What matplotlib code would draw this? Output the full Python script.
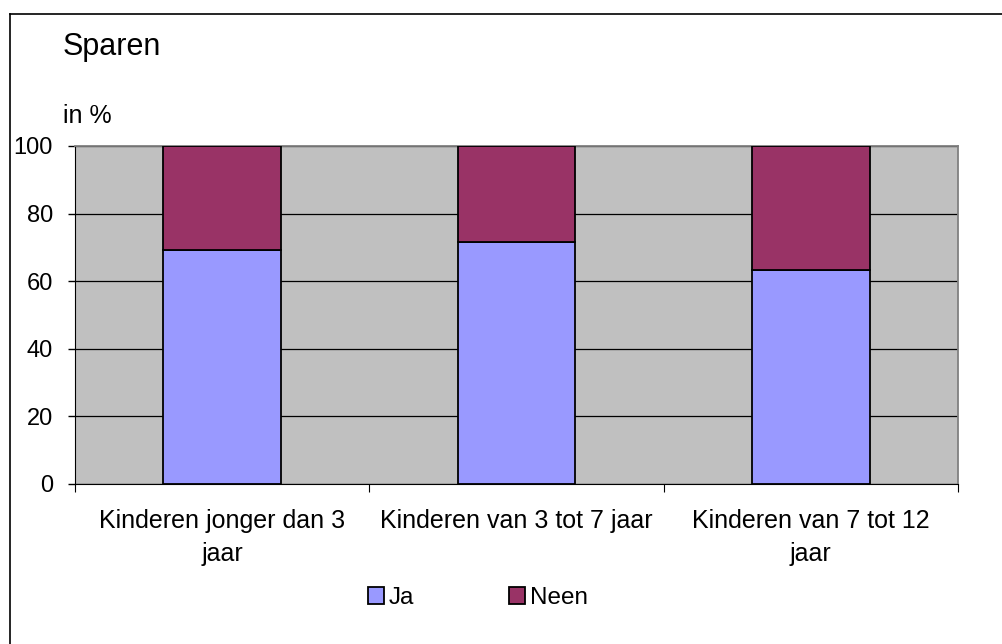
import numpy as np
import matplotlib.pyplot as plt
from matplotlib.lines import Line2D

# -----------------------------
# Data
# -----------------------------
categories = ["Kinderen jonger dan 3\njaar", "Kinderen van 3 tot 7 jaar", "Kinderen van 7 tot 12\njaar"]
ja = [69.2, 71.6, 63.3]
neen = [30.8, 28.4, 36.7]
yticks = [0, 20, 40, 60, 80, 100]

plt.rcParams['font.family'] = ['Liberation Sans', 'DejaVu Sans']

W, H = 1002, 644
fig = plt.figure(figsize=(W / 100, H / 100), dpi=100)
ax = fig.add_axes([75 / W, 1 - 484 / H, (958 - 75) / W, (484 - 146) / H])
ax.set_facecolor("#C0C0C0")

x = np.arange(len(categories))
b1 = ax.bar(x, ja, width=0.4, color="#9999FF", edgecolor="black", linewidth=1.3, label="Ja", zorder=3)
b2 = ax.bar(x, neen, bottom=ja, width=0.4, color="#993366", edgecolor="black", linewidth=1.3, label="Neen", zorder=3)

ax.set_xlim(-0.5, len(categories) - 0.5)
ax.set_ylim(0, 100)
ax.set_yticks(yticks)
ax.tick_params(axis='y', labelsize=17, length=5, width=1, direction='out', pad=11)
ax.yaxis.grid(True, color="black", linewidth=0.9, zorder=1)
ax.set_axisbelow(True)

# category boundary ticks on x axis, labels in the middle
ax.set_xticks(np.arange(len(categories) + 1) - 0.5)
ax.set_xticklabels([])
ax.set_xticks(x, minor=True)
ax.set_xticklabels(categories, minor=True, fontsize=18, linespacing=1.5)
ax.tick_params(axis='x', which='major', length=6, width=0.8, direction='out')
ax.tick_params(axis='x', which='minor', length=0, pad=18)

for s in ["top", "right"]:
    ax.spines[s].set_color("#808080")
    ax.spines[s].set_linewidth(1.3)
ax.spines["left"].set_color("black")
ax.spines["bottom"].set_color("black")

fig.text(63 / W, 1 - 47.5 / H, "Sparen", fontsize=22, ha="left", va="center")
fig.text(63 / W, 1 - 116 / H, "in %", fontsize=18, ha="left", va="center")

fig.legend(handles=[b1, b2], labels=["Ja", "Neen"], loc="center", bbox_to_anchor=(478 / W, 1 - 598 / H),
           ncol=2, frameon=False, fontsize=17.5, handlelength=0.66, handleheight=0.66,
           handletextpad=0.2, columnspacing=3.9, borderpad=0)

# outer frame (only left and top are visible in the reference)
fig.add_artist(Line2D([9.5 / W, 9.5 / W], [0, 1 - 14 / H], color="black", linewidth=1.2, transform=fig.transFigure))
fig.add_artist(Line2D([9.5 / W, 1], [1 - 14 / H, 1 - 14 / H], color="black", linewidth=1.2, transform=fig.transFigure))

fig.savefig("out.png", dpi=100)
